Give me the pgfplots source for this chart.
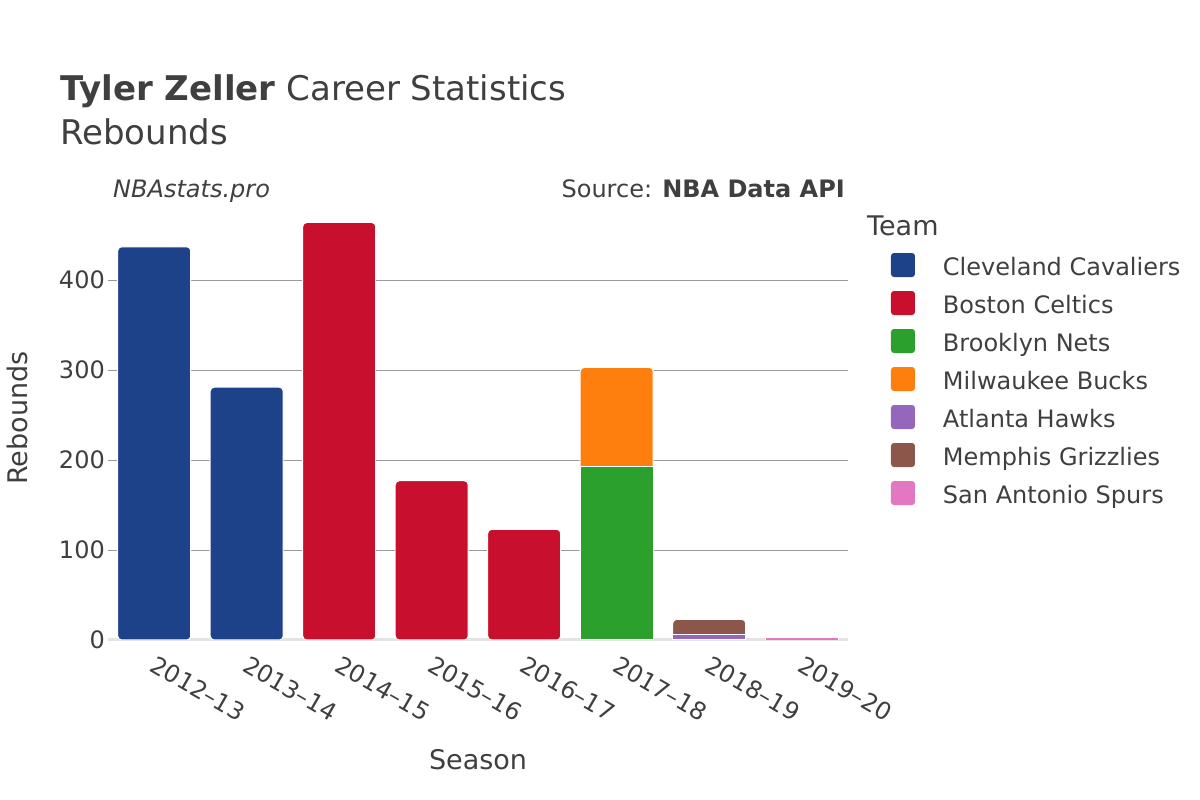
\documentclass[border=0pt]{standalone}
\usepackage{fontspec}
\setmainfont{DejaVu Sans}
\usepackage{pgfplots}
\pgfplotsset{compat=1.18}

\definecolor{txt}{HTML}{3F3F3F}
\definecolor{gridc}{HTML}{9A9A9A}
\definecolor{zeroc}{HTML}{E4E4E4}
\definecolor{cle}{HTML}{1D428A}
\definecolor{bos}{HTML}{C8102E}
\definecolor{bkn}{HTML}{2CA02C}
\definecolor{mil}{HTML}{FF7F0E}
\definecolor{atl}{HTML}{9467BD}
\definecolor{mem}{HTML}{8C564B}
\definecolor{sas}{HTML}{E377C2}

\begin{document}
\begin{tikzpicture}
% page frame, 1px = 1pt
\path (-108pt,-160pt) rectangle (1092pt,640pt);

\begin{axis}[
  scale only axis,
  width=740pt, height=440pt,
  xmin=-0.5, xmax=7.5,
  ymin=0, ymax=489,
  ybar, bar width=73pt, bar shift=0pt,
  xtick={0,...,7},
  xticklabels={2012–13,2013–14,2014–15,2015–16,2016–17,2017–18,2018–19,2019–20},
  ytick={100,200,300,400},
  extra y ticks={0},
  extra y tick style={grid style={color=zeroc, line width=3pt}},
  ymajorgrids,
  grid style={color=gridc, line width=1pt},
  axis line style={draw=none},
  major tick length=0pt,
  tick label style={font=\fontsize{24}{28}\selectfont, text=txt},
  /pgf/number format/assume math mode=true,
  yticklabel style={anchor=east, inner sep=0pt, xshift=-3pt},
  xticklabel style={rotate=-30, anchor=north west, inner sep=0pt, xshift=10pt, yshift=-11pt},
  xlabel={Season}, ylabel={Rebounds},
  label style={font=\fontsize{27}{32}\selectfont, text=txt},
  xlabel style={at={(axis description cs:0.5,-0.2727)}, anchor=center},
  ylabel style={at={(axis description cs:-0.123,0.5045)}, anchor=center},
  legend image code/.code={\fill[#1, rounded corners=3pt] (0pt,-10.5pt) rectangle (24pt,13.5pt);},
  legend cell align=left,
  legend style={at={(1.0581,0.8795)}, anchor=north west, draw=none, fill=none,
    inner sep=0pt, outer sep=0pt, row sep=12.5pt,
    font=\fontsize{24}{28}\selectfont, text=txt,
    nodes={inner sep=0pt, text height=20.5pt, text depth=3.5pt},
    /tikz/every odd column/.append style={column sep=28pt}},
]
\addlegendimage{fill=cle, draw=none}\addlegendentry{Cleveland Cavaliers}
\addlegendimage{fill=bos, draw=none}\addlegendentry{Boston Celtics}
\addlegendimage{fill=bkn, draw=none}\addlegendentry{Brooklyn Nets}
\addlegendimage{fill=mil, draw=none}\addlegendentry{Milwaukee Bucks}
\addlegendimage{fill=atl, draw=none}\addlegendentry{Atlanta Hawks}
\addlegendimage{fill=mem, draw=none}\addlegendentry{Memphis Grizzlies}
\addlegendimage{fill=sas, draw=none}\addlegendentry{San Antonio Spurs}

% Cleveland Cavaliers
\addplot[forget plot, fill=cle, draw=white, line width=1pt, rounded corners=4pt]
  coordinates {(0,437) (1,281)};
% Boston Celtics
\addplot[forget plot, fill=bos, draw=white, line width=1pt, rounded corners=4pt]
  coordinates {(2,464) (3,177) (4,123)};
% 2017-18: Milwaukee on top of Brooklyn (top of stack = 303)
\addplot[forget plot, fill=mil, draw=white, line width=1pt, rounded corners=4pt]
  coordinates {(5,303)};
\addplot[forget plot, fill=bkn, draw=white, line width=1pt]
  coordinates {(5,193)};
% 2018-19: Memphis on top of Atlanta (top of stack = 23)
\addplot[forget plot, fill=mem, draw=white, line width=1pt, rounded corners=4pt]
  coordinates {(6,23)};
\addplot[forget plot, fill=atl, draw=white, line width=1pt]
  coordinates {(6,6)};
% San Antonio Spurs
\addplot[forget plot, fill=sas, draw=white, line width=0.5pt]
  coordinates {(7,3)};
\end{axis}

\node[anchor=base west, inner sep=0pt, text=txt, font=\fontsize{34}{40}\selectfont]
  at (-48pt,539.6pt) {\textbf{Tyler Zeller} Career Statistics};
\node[anchor=base west, inner sep=0pt, text=txt, font=\fontsize{34}{40}\selectfont]
  at (-48pt,495.6pt) {Rebounds};
\node[anchor=base west, inner sep=0pt, text=txt, font=\fontsize{24}{28}\selectfont\itshape]
  at (5pt,442pt) {NBAstats.pro};
\node[anchor=base east, inner sep=0pt, text=txt, font=\fontsize{24}{28}\selectfont]
  at (737pt,442pt) {Source: \textbf{NBA Data API}};
\node[anchor=base west, inner sep=0pt, text=txt, font=\fontsize{27}{32}\selectfont]
  at (759pt,404pt) {Team};
\end{tikzpicture}
\end{document}
